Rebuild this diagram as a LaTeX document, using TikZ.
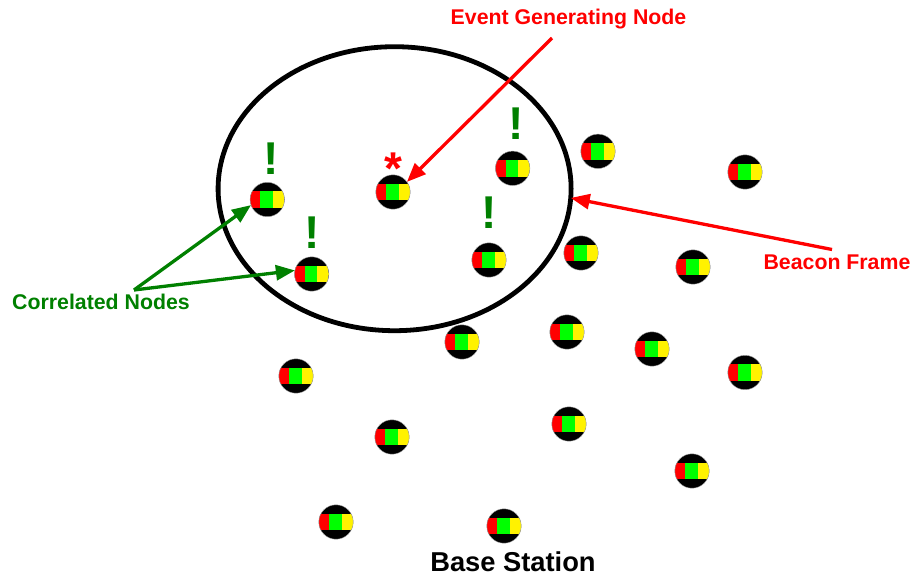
\documentclass[tikz,border=0pt]{standalone}
\usepackage{fontspec}
\setmainfont{Liberation Sans}
\usetikzlibrary{arrows.meta,shapes.geometric}
\definecolor{dgreen}{RGB}{0,128,0}
\tikzset{
  x=1pt,y=-1pt,
  sensor/.style={circle,fill=black,draw=black!35,line width=0.4pt,minimum size=34.4pt,inner sep=0pt,outer sep=0pt,
    path picture={
      \fill[red] (-17.5,-8.3) rectangle (-7,8.3);
      \fill[green] (-7,-8.3) rectangle (5.5,8.3);
      \fill[yellow] (5.5,-8.3) rectangle (17.5,8.3);
    }},
  redarrow/.style={draw=red,line width=3.3pt,-{Triangle[length=19pt,width=15pt]}},
  greenarrow/.style={draw=dgreen,line width=3.3pt,-{Triangle[length=19pt,width=15pt]}},
  redlabel/.style={text=red,font=\fontsize{21.3}{24}\selectfont\bfseries,inner sep=0pt},
  greenlabel/.style={text=dgreen,font=\fontsize{21.3}{24}\selectfont\bfseries,inner sep=0pt},
  bang/.style={text=dgreen,font=\fontsize{46}{50}\selectfont\bfseries,inner sep=0pt},
  starmark/.style={text=red,font=\fontsize{46}{50}\selectfont\bfseries,inner sep=0pt},
}
\begin{document}
\begin{tikzpicture}
\useasboundingbox (0,0) rectangle (914,576);
\node[ellipse,draw=black,line width=4.8pt,minimum width=353pt,minimum height=284pt,inner sep=0pt,outer sep=0pt] (cell) at (394.6,188.7) {};
\foreach \n/\px/\py in {a/267.3/199.5,b/311.7/274,c/393/192,d/512.7/168.3,e/598/151.3,f/745/172,g/489/260,h/581/253,i/693/267,j/462/342,k/567/332,l/652/349,m/745/372.5,o/296/376,p/392/437,q/569/424,r/692/471,s/336/522,t/504/526}
  \node[sensor] (n\n) at (\px,\py) {};
\node[bang] (b1) at (271.5,158.5) {!};
\node[bang] (b2) at (312,232.5) {!};
\node[bang] (b3) at (516.5,123.5) {!};
\node[bang] (b4) at (489.5,212.5) {!};
\node[starmark] (st) at (393.5,169) {*};
\node[redlabel,anchor=base] (evt) at (568.5,24) {Event Generating Node};
\node[redlabel,anchor=base] (bcn) at (837,269) {Beacon Frame};
\node[greenlabel,anchor=base] (cor) at (101,309) {Correlated Nodes};
\node[text=black,font=\fontsize{27.3}{30}\selectfont\bfseries,inner sep=0pt,anchor=base] (bs) at (513,571) {Base Station};
\coordinate (evtc) at (552,38);
\coordinate (bcnc) at (832,249.5);
\coordinate (corc) at (134,290);
\draw[redarrow] (evtc) -- (nc.36);
\draw[redarrow] (bcnc) -- (cell.-3.2);
\draw[greenarrow] (corc) -- (na.199);
\draw[greenarrow] (corc) -- (nb.168);
\end{tikzpicture}
\end{document}
